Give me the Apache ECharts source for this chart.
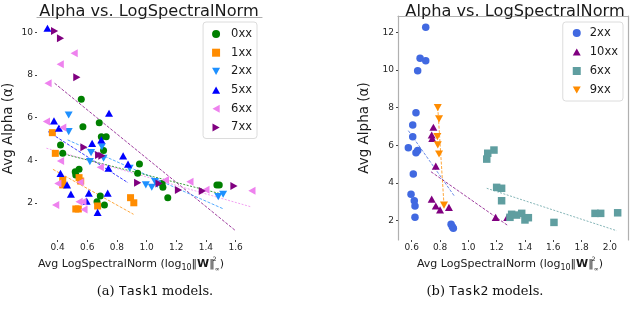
<!DOCTYPE html>
<html><head><meta charset="utf-8">
<script src="https://cdn.jsdelivr.net/npm/echarts@6/dist/echarts.min.js"></script>
<style>html,body{margin:0;padding:0;background:#fff}#c{width:640px;height:312px}</style>
</head><body><div id="c"></div>
<script>
// ---------- data ----------
const titleText = "Alpha vs. LogSpectralNorm";
const yTicks = [2, 4, 6, 8, 10];
const xTicksL = [0.4, 0.6, 0.8, 1.0, 1.2, 1.4, 1.6];
const yTicksR = [2, 4, 6, 8, 10, 12];
const xTicksR = [0.6, 0.8, 1.0, 1.2, 1.4, 1.6, 1.8, 2.0];

// Task1 (left)
const t1_0xx_x = [0.56,0.571,0.681,0.695,0.728,0.71,0.42,0.435,0.952,0.94,0.519,0.523,0.545,1.105,1.11,0.688,0.666,0.716,1.143,1.474,1.49];
const t1_0xx_y = [6.87,5.58,5.77,5.11,5.11,4.46,4.72,4.33,3.83,3.39,3.47,3.31,3.58,2.92,2.74,2.33,2.06,1.91,2.25,2.85,2.85];
const t1_1xx_x = [0.365,0.385,0.435,0.435,0.545,0.556,0.892,0.914,0.523,0.54,0.67];
const t1_1xx_y = [5.30,4.33,3.08,2.85,3.19,3.03,2.25,2.01,1.72,1.72,1.86];
const t1_2xx_x = [0.475,0.475,0.699,0.626,0.71,0.618,0.886,0.995,1.035,1.057,1.072,1.483,1.516];
const t1_2xx_y = [6.13,5.35,4.64,4.36,4.10,3.94,3.63,2.85,2.74,3.0,2.88,2.30,2.41];
const t1_5xx_x = [0.332,0.747,0.376,0.409,0.633,0.695,0.842,0.743,0.875,0.42,0.464,0.49,0.611,0.738,0.596,0.67];
const t1_5xx_y = [10.2,6.21,5.85,5.51,4.80,4.96,4.21,3.63,3.82,3.39,2.85,2.42,2.46,2.46,2.09,1.56];
const t1_6xx_x = [0.512,0.418,0.336,0.325,0.435,0.42,0.688,0.402,0.552,1.127,0.545,0.571,0.387,0.578,1.292,1.40,1.71];
const t1_6xx_y = [9.03,8.51,7.62,5.82,5.54,3.97,3.68,2.92,2.97,3.08,2.06,2.06,1.91,1.70,3.0,2.62,2.58];
const t1_7xx_x = [0.38,0.42,0.53,0.578,0.677,0.699,0.94,1.084,1.215,1.376,1.589];
const t1_7xx_y = [10.07,9.73,7.9,4.61,4.25,4.22,2.95,2.92,2.61,2.56,2.80];
// fit line endpoints [x0, x1], [y0, y1]
const t1_fit0_x = [0.424,1.49], t1_fit0_y = [4.33,2.45];
const t1_fit1_x = [0.369,0.912], t1_fit1_y = [3.58,1.47];
const t1_fit2_x = [0.468,1.519], t1_fit2_y = [4.96,1.72];
const t1_fit5_x = [0.336,0.875], t1_fit5_y = [5.35,2.95];
const t1_fit6_x = [0.325,1.699], t1_fit6_y = [4.57,1.83];
const t1_fit7_x = [0.38,1.6], t1_fit7_y = [7.62,0.70];

// Task2 (right)
const t2_2xx_x = [0.699,0.659,0.699,0.642,0.63,0.607,0.607,0.576,0.63,0.642,0.611,0.595,0.618,0.623,0.623,0.878,0.887,0.894];
const t2_2xx_y = [12.27,10.62,10.49,9.96,7.73,7.08,6.46,5.87,5.61,5.72,4.48,3.40,3.06,2.78,2.18,1.81,1.68,1.60];
const t2_10xx_x = [0.753,0.741,0.745,0.77,0.741,0.77,0.8,0.863,1.193,1.275];
const t2_10xx_y = [6.96,6.55,6.37,4.90,3.15,2.78,2.57,2.71,2.18,2.18];
const t2_6xx_x = [1.13,1.137,1.181,1.2,1.235,1.235,1.294,1.306,1.341,1.377,1.40,1.424,1.605,1.895,1.935,2.055];
const t2_6xx_y = [5.27,5.58,5.75,3.77,3.72,3.06,2.18,2.34,2.30,2.39,2.04,2.16,1.91,2.39,2.39,2.42];
const t2_9xx_x = [0.784,0.793,0.781,0.784,0.793,0.828];
const t2_9xx_y = [8.0,7.40,6.46,6.02,5.54,2.83];
const t2_fit2_x = [0.576,0.901], t2_fit2_y = [6.78,3.31];
const t2_fit10_x = [0.736,1.282], t2_fit10_y = [4.60,1.73];
const t2_fit6_x = [1.13,2.048], t2_fit6_y = [3.72,1.47];
const t2_fit9_x = [0.784,0.828], t2_fit9_y = [8.0,2.83];

// ---------- chart ----------
const zip = (xs, ys) => xs.map((x, i) => [x, ys[i]]);
const FONT = "DejaVu Sans";
const tickLblColor = "#262626";
const spine = "#b0b0b0";
const TRI_UP = 'path://M5,0 L10,9 L0,9 Z';
const TRI_DOWN = 'path://M0,0 L10,0 L5,9 Z';
const TRI_LEFT = 'path://M9,0 L9,10 L0,5 Z';
const TRI_RIGHT = 'path://M0,0 L9,5 L0,10 Z';

function scat(name, xs, ys, color, symbol, size, xi, yi) {
  return { type: 'scatter', name, xAxisIndex: xi, yAxisIndex: yi, data: zip(xs, ys),
    symbol, symbolSize: size, symbolKeepAspect: true, itemStyle: { color, opacity: 1 }, z: 3 };
}
function fit(xs, ys, color, dash, xi, yi) {
  return { type: 'line', xAxisIndex: xi, yAxisIndex: yi, data: zip(xs, ys), symbol: 'none',
    silent: true, lineStyle: { color, width: 0.9, type: dash, opacity: 0.85 }, z: 2 };
}
const xNameRich = {
  n: { fontFamily: FONT, fontSize: 11, fill: '#1a1a1a', lineHeight: 16 },
  s: { fontFamily: FONT, fontSize: 8, fill: '#1a1a1a', verticalAlign: 'bottom', lineHeight: 16 },
  b: { fontFamily: FONT, fontSize: 11, fontWeight: 'bold', fill: '#1a1a1a', lineHeight: 16 },
  p: { fontFamily: FONT, fontSize: 6, fill: '#1a1a1a', verticalAlign: 'top', lineHeight: 16, width: 0.01 },
  q: { fontFamily: FONT, fontSize: 6, fill: '#1a1a1a', verticalAlign: 'bottom', lineHeight: 16 }
};
const xName = '{n|Avg LogSpectralNorm (log}{s|10}{n|\u2016}{b|W}{n|\u2016}{p|2}{q|\u221e}{n|)}';

function baseX(gi, min, max, ticks) {
  return { type: 'value', gridIndex: gi, min, max, position: 'bottom',
    axisLine: { show: false }, splitLine: { show: false },
    axisTick: { show: true, length: 2, customValues: ticks, lineStyle: { color: '#444' } },
    axisLabel: { customValues: ticks, formatter: v => v.toFixed(1), fontFamily: FONT, fontSize: 9, color: tickLblColor, margin: 3 } };
}
function spineAxis(gi, min, max, pos) {
  return { type: 'value', gridIndex: gi, min, max, position: pos,
    axisLine: { show: true, onZero: false, lineStyle: { color: spine, width: 1.2 } },
    axisTick: { show: false }, axisLabel: { show: false }, splitLine: { show: false } };
}
function baseY(gi, min, max, ticks, gap, showLine) {
  return { type: 'value', gridIndex: gi, min, max, position: 'left',
    axisLine: { show: showLine, onZero: false, lineStyle: { color: spine, width: 1.2 } }, splitLine: { show: false },
    axisTick: { show: true, length: 2, customValues: ticks, lineStyle: { color: '#444' } },
    axisLabel: { customValues: ticks, fontFamily: FONT, fontSize: 9, color: tickLblColor, margin: 4 },
    name: 'Avg Alpha (\u03b1)', nameLocation: 'middle', nameGap: gap, nameRotate: 90,
    nameTextStyle: { fontFamily: FONT, fontSize: 13.5, color: '#1a1a1a' } };
}

const L = { xmin: 0.2615, xmax: 1.778, ymin: 0.264, ymax: 10.727 };
const R = { xmin: 0.503, xmax: 2.128, ymin: 0.976, ymax: 12.865 };

const legendCommon = {
  orient: 'vertical', itemWidth: 8, itemHeight: 8, itemGap: 6.7, symbolKeepAspect: true,
  borderColor: '#dcdcdc', borderWidth: 1, borderRadius: 3, backgroundColor: '#fff',
  textStyle: { fontFamily: FONT, fontSize: 11.5, color: '#1a1a1a', padding: [0, 0, 0, 6] },
  formatter: n => n.slice(1), selectedMode: false
};
const titleStyle = { fontFamily: FONT, fontSize: 16.2, fontWeight: 'normal', color: '#1a1a1a' };
const capRich = { s: { fontFamily: 'DejaVu Serif', fontSize: 13, fill: '#111' }, m: { fontFamily: 'DejaVu Sans Mono', fontSize: 13, fill: '#111' } };

const option = {
  animation: false,
  backgroundColor: '#fff',
  title: [
    { text: titleText, left: 144, top: -1, textAlign: 'center', textStyle: titleStyle },
    { text: titleText, left: 510, top: -1, textAlign: 'center', textStyle: titleStyle }
  ],
  grid: [
    { left: 32, right: 378, top: 17, bottom: 72 },
    { left: 398, right: 12, top: 16, bottom: 72 }
  ],
  xAxis: [
    baseX(0, L.xmin, L.xmax, xTicksL),
    spineAxis(0, L.xmin, L.xmax, 'top'),
    baseX(1, R.xmin, R.xmax, xTicksR),
    spineAxis(1, R.xmin, R.xmax, 'top')
  ],
  yAxis: [
    baseY(0, L.ymin, L.ymax, yTicks, 22, false),
    baseY(1, R.ymin, R.ymax, yTicksR, 27, true),
    spineAxis(1, R.ymin, R.ymax, 'right')
  ],
  legend: [
    Object.assign({}, legendCommon, { data: [
        { name: 'a0xx', icon: 'circle' }, { name: 'a1xx', icon: 'rect' }, { name: 'a2xx', icon: TRI_DOWN },
        { name: 'a5xx', icon: TRI_UP }, { name: 'a6xx', icon: TRI_LEFT }, { name: 'a7xx', icon: TRI_RIGHT }],
      right: 383, top: 22, padding: [6, 5, 5, 9] }),
    Object.assign({}, legendCommon, { data: [
        { name: 'b2xx', icon: 'circle' }, { name: 'b10xx', icon: TRI_UP }, { name: 'b6xx', icon: 'rect' }, { name: 'b9xx', icon: TRI_DOWN }],
      right: 17, top: 22, padding: [5, 5, 5, 10], itemGap: 7,
      textStyle: { fontFamily: FONT, fontSize: 11.5, color: '#1a1a1a', padding: [0, 0, 0, 4] } })
  ],
  series: [
    fit(t1_fit7_x, t1_fit7_y, '#800080', [3, 1.5], 0, 0),
    fit(t1_fit5_x, t1_fit5_y, '#0000ff', [3, 1.5], 0, 0),
    fit(t1_fit2_x, t1_fit2_y, '#1e90ff', [3, 1.5], 0, 0),
    fit(t1_fit1_x, t1_fit1_y, '#ff8c00', [3, 1.5], 0, 0),
    fit(t1_fit6_x, t1_fit6_y, '#ee82ee', [2, 1.5], 0, 0),
    fit(t1_fit0_x, t1_fit0_y, '#008000', [2, 1.5], 0, 0),
    scat('a0xx', t1_0xx_x, t1_0xx_y, '#008000', 'circle', 7, 0, 0),
    scat('a1xx', t1_1xx_x, t1_1xx_y, '#ff8c00', 'rect', 7, 0, 0),
    scat('a2xx', t1_2xx_x, t1_2xx_y, '#1e90ff', TRI_DOWN, 8, 0, 0),
    scat('a5xx', t1_5xx_x, t1_5xx_y, '#0000ff', TRI_UP, 8, 0, 0),
    scat('a6xx', t1_6xx_x, t1_6xx_y, '#ee82ee', TRI_LEFT, 8, 0, 0),
    scat('a7xx', t1_7xx_x, t1_7xx_y, '#800080', TRI_RIGHT, 8, 0, 0),

    fit(t2_fit2_x, t2_fit2_y, '#4169e1', [3, 1.5], 2, 1),
    fit(t2_fit10_x, t2_fit10_y, '#800080', [3, 1.5], 2, 1),
    fit(t2_fit6_x, t2_fit6_y, '#5f9ea0', [2, 1.5], 2, 1),
    fit(t2_fit9_x, t2_fit9_y, '#ff8c00', [3, 1.5], 2, 1),
    scat('b2xx', t2_2xx_x, t2_2xx_y, '#4169e1', 'circle', 7.5, 2, 1),
    scat('b10xx', t2_10xx_x, t2_10xx_y, '#800080', TRI_UP, 8, 2, 1),
    scat('b6xx', t2_6xx_x, t2_6xx_y, '#5f9ea0', 'rect', 7.5, 2, 1),
    scat('b9xx', t2_9xx_x, t2_9xx_y, '#ff8c00', TRI_DOWN, 8, 2, 1)
  ],
  graphic: [
    { type: 'text', x: 131, y: 264, silent: true, style: { text: xName, align: 'center', verticalAlign: 'middle', rich: xNameRich } },
    { type: 'text', x: 510, y: 264, silent: true, style: { text: xName, align: 'center', verticalAlign: 'middle', rich: xNameRich } },
    { type: 'text', x: 155, y: 292, silent: true, style: { text: '{s|(a) }{m|Task1}{s| models.}', align: 'center', verticalAlign: 'middle', rich: capRich } },
    { type: 'text', x: 485, y: 292, silent: true, style: { text: '{s|(b) }{m|Task2}{s| models.}', align: 'center', verticalAlign: 'middle', rich: capRich } }
  ]
};
const chart = echarts.init(document.getElementById('c'), null, { renderer: 'canvas' });
chart.setOption(option);
</script>
</body></html>
